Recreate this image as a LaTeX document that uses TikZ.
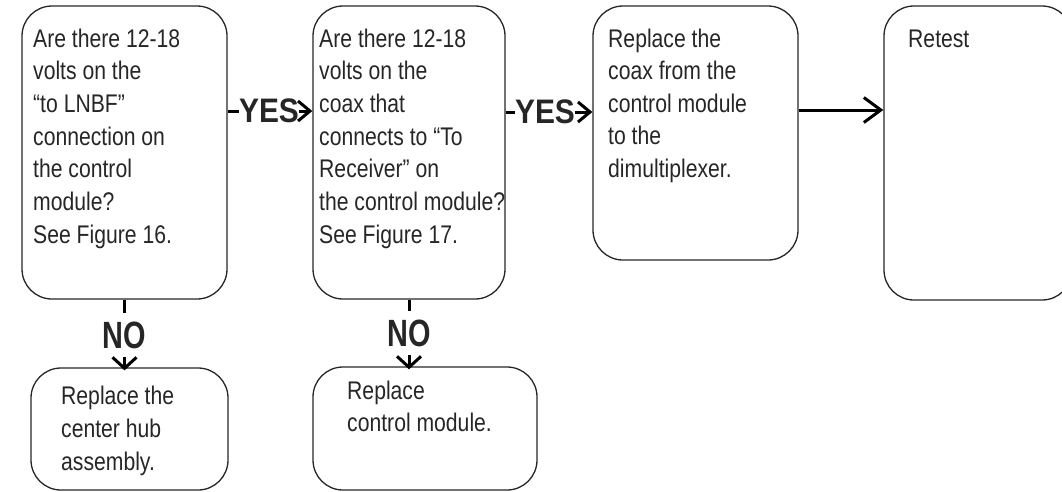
\documentclass[tikz,border=0pt]{standalone}
\usepackage{fontspec}
\setmainfont{Liberation Sans}[FakeStretch=0.83]
\newfontfamily\yesfont{Liberation Sans}[FakeStretch=0.88]
\newfontfamily\nofont{Liberation Sans}[FakeStretch=0.76]
\usetikzlibrary{arrows.meta,calc}
\definecolor{ink}{HTML}{262626}
\newcommand\flowtext[3]{\parbox[t]{#1}{\raggedright\fontsize{25.5}{#2}\selectfont #3}}
\begin{document}
\begin{tikzpicture}[x=1pt,y=-1pt,
  box/.style={draw=ink, line width=1.3pt, rounded corners=30pt, minimum width=#1, inner sep=0pt},
  txt/.style={anchor=base west, inner sep=0pt, text=ink},
  conn/.style={line width=3pt, black},
  yeslbl/.style={inner xsep=0pt, inner ysep=2pt, text=ink, font=\yesfont\bfseries\fontsize{34}{34}\selectfont},
  nolbl/.style={inner xsep=2pt, inner ysep=8pt, text=ink, font=\nofont\bfseries\fontsize{38}{38}\selectfont}
]
\useasboundingbox (0,0) rectangle (1062,491);
% boxes
\node[box=205pt, minimum height=293pt] (q1) at (124.5,152.5) {};
\node[box=192pt, minimum height=293pt] (q2) at (409,152.5) {};
\node[box=205pt, minimum height=254pt] (q3) at (695.5,133) {};
\node[box=188pt, minimum height=294pt] (q4) at (978,153) {};
\node[box=197pt, minimum height=122pt] (q5) at (129.5,429) {};
\node[box=224pt, minimum height=123pt] (q6) at (425,428.5) {};
% texts
\node[txt] (t1) at (33,47) {\flowtext{200pt}{32.7pt}{Are there 12-18\\volts on the\\“to LNBF”\\connection on\\the control\\module?\\See Figure 16.}};
\node[txt] (t2) at (319,47) {\flowtext{200pt}{32.7pt}{Are there 12-18\\volts on the\\coax that\\connects to “To\\Receiver” on\\the control module?\\See Figure 17.}};
\node[txt] (t3) at (608,47) {\flowtext{200pt}{32.5pt}{Replace the\\coax from the\\control module\\to the\\dimultiplexer.}};
\node[txt] (t4) at (908,47) {\flowtext{150pt}{32.5pt}{Retest}};
\node[txt] (t5) at (61,404) {\flowtext{180pt}{33pt}{Replace the\\center hub\\assembly.}};
\node[txt] (t6) at (347,399) {\flowtext{200pt}{32pt}{Replace\\control module.}};
% labels
\node[yeslbl] (yes1) at (269,111) {YES};
\node[yeslbl] (yes2) at (545,112) {YES};
\node[nolbl] (no1) at (124.5,335) {NO};
\node[nolbl] (no2) at (409,333) {NO};
% connectors
\coordinate (ya) at (0,111);
\coordinate (yb) at (0,112);
\coordinate (yc) at (0,110);
\coordinate (e5) at ($(q5.north)+(0,3)$);
\coordinate (e6) at ($(q6.north)+(0,3)$);
\draw[conn] (q1.east |- ya) -- (yes1.west);
\draw[conn, -{Straight Barb[length=12pt,width=20pt]}] (yes1.east) -- (q2.west |- ya);
\draw[conn] (q2.east |- yb) -- (yes2.west);
\draw[conn, -{Straight Barb[length=12pt,width=20pt]}] (yes2.east) -- (q3.west |- yb);
\draw[conn, -{Straight Barb[length=17pt,width=25pt]}] (q3.east |- yc) -- (q4.west |- yc);
\draw[conn] (q1.south) -- (no1.north);
\draw[conn, -{Straight Barb[length=11pt,width=24pt]}] (no1.south) -- (no1.south |- e5);
\draw[conn] (q2.south) -- (no2.north);
\draw[conn, -{Straight Barb[length=11pt,width=24pt]}] (no2.south) -- (no2.south |- e6);
\end{tikzpicture}
\end{document}
